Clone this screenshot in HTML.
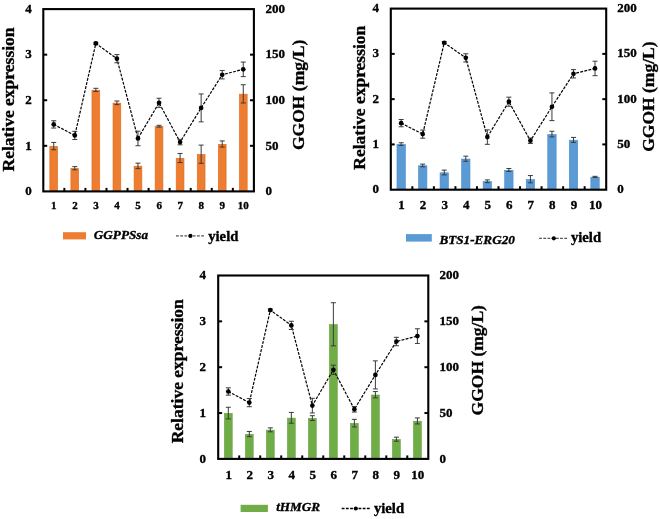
<!DOCTYPE html>
<html><head><meta charset="utf-8"><title>Relative expression and GGOH yield</title>
<style>
html,body{margin:0;padding:0;background:#fff;}
svg{display:block;filter:blur(0.3px);}
text{font-family:"Liberation Serif", serif;font-weight:bold;fill:#000;stroke:#000;stroke-width:0.35px;}
</style></head>
<body>
<svg width="660" height="519" viewBox="0 0 660 519">
<rect width="660" height="519" fill="#fff"/>
<g><rect x="49.83" y="146.4" width="7.8" height="45" fill="#ED7D31" stroke="#E06A1C" stroke-width="0.6"/><rect x="70.89" y="168.5" width="7.8" height="22.9" fill="#ED7D31" stroke="#E06A1C" stroke-width="0.6"/><rect x="91.95" y="90.2" width="7.8" height="101.2" fill="#ED7D31" stroke="#E06A1C" stroke-width="0.6"/><rect x="113.01" y="103.1" width="7.8" height="88.3" fill="#ED7D31" stroke="#E06A1C" stroke-width="0.6"/><rect x="134.07" y="166.18" width="7.8" height="25.22" fill="#ED7D31" stroke="#E06A1C" stroke-width="0.6"/><rect x="155.13" y="126.53" width="7.8" height="64.87" fill="#ED7D31" stroke="#E06A1C" stroke-width="0.6"/><rect x="176.19" y="158.29" width="7.8" height="33.11" fill="#ED7D31" stroke="#E06A1C" stroke-width="0.6"/><rect x="197.25" y="154.51" width="7.8" height="36.89" fill="#ED7D31" stroke="#E06A1C" stroke-width="0.6"/><rect x="218.31" y="144.3" width="7.8" height="47.1" fill="#ED7D31" stroke="#E06A1C" stroke-width="0.6"/><rect x="239.37" y="94.17" width="7.8" height="97.23" fill="#ED7D31" stroke="#E06A1C" stroke-width="0.6"/><path d="M53.73 142.45V149.74M51.23 142.45H56.23M51.23 149.74H56.23" stroke="#3a3a3a" stroke-width="1" fill="none"/><path d="M74.79 166.61V169.8M72.29 166.61H77.29M72.29 169.8H77.29" stroke="#3a3a3a" stroke-width="1" fill="none"/><path d="M95.85 88.31V91.5M93.35 88.31H98.35M93.35 91.5H98.35" stroke="#3a3a3a" stroke-width="1" fill="none"/><path d="M116.91 100.98V104.63M114.41 100.98H119.41M114.41 104.63H119.41" stroke="#3a3a3a" stroke-width="1" fill="none"/><path d="M137.97 163.14V168.61M135.47 163.14H140.47M135.47 168.61H140.47" stroke="#3a3a3a" stroke-width="1" fill="none"/><path d="M159.03 125.32V127.14M156.53 125.32H161.53M156.53 127.14H161.53" stroke="#3a3a3a" stroke-width="1" fill="none"/><path d="M180.09 153.44V162.55M177.59 153.44H182.59M177.59 162.55H182.59" stroke="#3a3a3a" stroke-width="1" fill="none"/><path d="M201.15 145.1V163.33M198.65 145.1H203.65M198.65 163.33H203.65" stroke="#3a3a3a" stroke-width="1" fill="none"/><path d="M222.21 140.95V147.06M219.71 140.95H224.71M219.71 147.06H224.71" stroke="#3a3a3a" stroke-width="1" fill="none"/><path d="M243.27 84.75V102.98M240.77 84.75H245.77M240.77 102.98H245.77" stroke="#3a3a3a" stroke-width="1" fill="none"/><path d="M53.73 124.4 L74.79 135.43 L95.85 43.46 L116.91 58.69 L137.97 138.44 L159.03 102.8 L180.09 142.09 L201.15 107.91 L222.21 74.73 L243.27 69.35" stroke="#000" stroke-width="1.2" fill="none" stroke-dasharray="2.9 1.3"/><path d="M53.73 120.76V128.05M51.23 120.76H56.23M51.23 128.05H56.23" stroke="#3a3a3a" stroke-width="1" fill="none"/><path d="M74.79 131.33V139.54M72.29 131.33H77.29M72.29 139.54H77.29" stroke="#3a3a3a" stroke-width="1" fill="none"/><path d="M95.85 42.37V44.56M93.35 42.37H98.35M93.35 44.56H98.35" stroke="#3a3a3a" stroke-width="1" fill="none"/><path d="M116.91 54.58V62.79M114.41 54.58H119.41M114.41 62.79H119.41" stroke="#3a3a3a" stroke-width="1" fill="none"/><path d="M137.97 131.15V145.73M135.47 131.15H140.47M135.47 145.73H140.47" stroke="#3a3a3a" stroke-width="1" fill="none"/><path d="M159.03 98.24V107.36M156.53 98.24H161.53M156.53 107.36H161.53" stroke="#3a3a3a" stroke-width="1" fill="none"/><path d="M180.09 139.35V144.82M177.59 139.35H182.59M177.59 144.82H182.59" stroke="#3a3a3a" stroke-width="1" fill="none"/><path d="M201.15 93.96V121.85M198.65 93.96H203.65M198.65 121.85H203.65" stroke="#3a3a3a" stroke-width="1" fill="none"/><path d="M222.21 70.54V78.92M219.71 70.54H224.71M219.71 78.92H224.71" stroke="#3a3a3a" stroke-width="1" fill="none"/><path d="M243.27 62.06V76.64M240.77 62.06H245.77M240.77 76.64H245.77" stroke="#3a3a3a" stroke-width="1" fill="none"/><circle cx="53.73" cy="124.4" r="2.35" fill="#000"/><circle cx="74.79" cy="135.43" r="2.35" fill="#000"/><circle cx="95.85" cy="43.46" r="2.35" fill="#000"/><circle cx="116.91" cy="58.69" r="2.35" fill="#000"/><circle cx="137.97" cy="138.44" r="2.35" fill="#000"/><circle cx="159.03" cy="102.8" r="2.35" fill="#000"/><circle cx="180.09" cy="142.09" r="2.35" fill="#000"/><circle cx="201.15" cy="107.91" r="2.35" fill="#000"/><circle cx="222.21" cy="74.73" r="2.35" fill="#000"/><circle cx="243.27" cy="69.35" r="2.35" fill="#000"/><rect x="43.3" y="9.1" width="210.6" height="182.3" fill="none" stroke="#000" stroke-width="2.1"/><line x1="64.36" y1="191.4" x2="64.36" y2="187.9" stroke="#000" stroke-width="2"/><line x1="85.42" y1="191.4" x2="85.42" y2="187.9" stroke="#000" stroke-width="2"/><line x1="106.48" y1="191.4" x2="106.48" y2="187.9" stroke="#000" stroke-width="2"/><line x1="127.54" y1="191.4" x2="127.54" y2="187.9" stroke="#000" stroke-width="2"/><line x1="148.6" y1="191.4" x2="148.6" y2="187.9" stroke="#000" stroke-width="2"/><line x1="169.66" y1="191.4" x2="169.66" y2="187.9" stroke="#000" stroke-width="2"/><line x1="190.72" y1="191.4" x2="190.72" y2="187.9" stroke="#000" stroke-width="2"/><line x1="211.78" y1="191.4" x2="211.78" y2="187.9" stroke="#000" stroke-width="2"/><line x1="232.84" y1="191.4" x2="232.84" y2="187.9" stroke="#000" stroke-width="2"/><line x1="43.3" y1="145.82" x2="47.2" y2="145.82" stroke="#000" stroke-width="2"/><line x1="253.9" y1="145.82" x2="250" y2="145.82" stroke="#000" stroke-width="2"/><line x1="43.3" y1="100.25" x2="47.2" y2="100.25" stroke="#000" stroke-width="2"/><line x1="253.9" y1="100.25" x2="250" y2="100.25" stroke="#000" stroke-width="2"/><line x1="43.3" y1="54.67" x2="47.2" y2="54.67" stroke="#000" stroke-width="2"/><line x1="253.9" y1="54.67" x2="250" y2="54.67" stroke="#000" stroke-width="2"/><text x="31.8" y="195.19" text-anchor="end" font-size="13">0</text><text x="265.5" y="195.19" font-size="13">0</text><text x="31.8" y="149.54" text-anchor="end" font-size="13">1</text><text x="265.5" y="149.54" font-size="13">50</text><text x="31.8" y="103.89" text-anchor="end" font-size="13">2</text><text x="265.5" y="103.89" font-size="13">100</text><text x="31.8" y="58.24" text-anchor="end" font-size="13">3</text><text x="265.5" y="58.24" font-size="13">150</text><text x="31.8" y="12.59" text-anchor="end" font-size="13">4</text><text x="265.5" y="12.59" font-size="13">200</text><text x="53.83" y="208.7" text-anchor="middle" font-size="11">1</text><text x="74.89" y="208.7" text-anchor="middle" font-size="11">2</text><text x="95.95" y="208.7" text-anchor="middle" font-size="11">3</text><text x="117.01" y="208.7" text-anchor="middle" font-size="11">4</text><text x="138.07" y="208.7" text-anchor="middle" font-size="11">5</text><text x="159.13" y="208.7" text-anchor="middle" font-size="11">6</text><text x="180.19" y="208.7" text-anchor="middle" font-size="11">7</text><text x="201.25" y="208.7" text-anchor="middle" font-size="11">8</text><text x="222.31" y="208.7" text-anchor="middle" font-size="11">9</text><text x="243.37" y="208.7" text-anchor="middle" font-size="11">10</text><text transform="translate(14 171.5) rotate(-90)" font-size="17.5">Relative expression</text><text transform="translate(304.2 150) rotate(-90)" font-size="17.5">GGOH (mg/L)</text><rect x="63" y="232.2" width="23" height="7.2" fill="#ED7D31"/><text x="93.8" y="239.4" font-size="13.2" font-style="italic">GGPPSsa</text><line x1="176" y1="235.9" x2="205.2" y2="235.9" stroke="#555" stroke-width="1.3" stroke-dasharray="2.8 1.4"/><circle cx="190.4" cy="235.9" r="2.1" fill="#000"/><text x="208.2" y="240.8" font-size="14.7">yield</text></g>
<g><rect x="396.97" y="144.41" width="8.4" height="45.29" fill="#5B9BD5" stroke="#4A8CCB" stroke-width="0.6"/><rect x="418.51" y="165.78" width="8.4" height="23.92" fill="#5B9BD5" stroke="#4A8CCB" stroke-width="0.6"/><rect x="440.05" y="172.8" width="8.4" height="16.9" fill="#5B9BD5" stroke="#4A8CCB" stroke-width="0.6"/><rect x="461.59" y="159.03" width="8.4" height="30.67" fill="#5B9BD5" stroke="#4A8CCB" stroke-width="0.6"/><rect x="483.13" y="181.58" width="8.4" height="8.12" fill="#5B9BD5" stroke="#4A8CCB" stroke-width="0.6"/><rect x="504.67" y="170.26" width="8.4" height="19.44" fill="#5B9BD5" stroke="#4A8CCB" stroke-width="0.6"/><rect x="526.21" y="179.5" width="8.4" height="10.2" fill="#5B9BD5" stroke="#4A8CCB" stroke-width="0.6"/><rect x="547.75" y="134.4" width="8.4" height="55.3" fill="#5B9BD5" stroke="#4A8CCB" stroke-width="0.6"/><rect x="569.29" y="140.2" width="8.4" height="49.5" fill="#5B9BD5" stroke="#4A8CCB" stroke-width="0.6"/><rect x="590.83" y="177.19" width="8.4" height="12.51" fill="#5B9BD5" stroke="#4A8CCB" stroke-width="0.6"/><path d="M401.17 142.75V145.47M398.67 142.75H403.67M398.67 145.47H403.67" stroke="#3a3a3a" stroke-width="1" fill="none"/><path d="M422.71 164.12V166.84M420.21 164.12H425.21M420.21 166.84H425.21" stroke="#3a3a3a" stroke-width="1" fill="none"/><path d="M444.25 170.1V174.9M441.75 170.1H446.75M441.75 174.9H446.75" stroke="#3a3a3a" stroke-width="1" fill="none"/><path d="M465.79 156.15V161.31M463.29 156.15H468.29M463.29 161.31H468.29" stroke="#3a3a3a" stroke-width="1" fill="none"/><path d="M487.33 179.92V182.64M484.83 179.92H489.83M484.83 182.64H489.83" stroke="#3a3a3a" stroke-width="1" fill="none"/><path d="M508.87 168.47V171.45M506.37 168.47H511.37M506.37 171.45H511.37" stroke="#3a3a3a" stroke-width="1" fill="none"/><path d="M530.41 175.57V182.82M527.91 175.57H532.91M527.91 182.82H532.91" stroke="#3a3a3a" stroke-width="1" fill="none"/><path d="M551.95 131.25V136.95M549.45 131.25H554.45M549.45 136.95H554.45" stroke="#3a3a3a" stroke-width="1" fill="none"/><path d="M573.49 137.41V142.39M570.99 137.41H575.99M570.99 142.39H575.99" stroke="#3a3a3a" stroke-width="1" fill="none"/><path d="M595.03 176.34V177.43M592.53 176.34H597.53M592.53 177.43H597.53" stroke="#3a3a3a" stroke-width="1" fill="none"/><path d="M401.17 123.15 L422.71 134.1 L444.25 42.74 L465.79 57.86 L487.33 137.09 L508.87 101.69 L530.41 140.71 L551.95 106.76 L573.49 73.8 L595.03 68.45" stroke="#000" stroke-width="1.2" fill="none" stroke-dasharray="2.9 1.3"/><path d="M401.17 119.52V126.77M398.67 119.52H403.67M398.67 126.77H403.67" stroke="#3a3a3a" stroke-width="1" fill="none"/><path d="M422.71 130.03V138.18M420.21 130.03H425.21M420.21 138.18H425.21" stroke="#3a3a3a" stroke-width="1" fill="none"/><path d="M444.25 41.65V43.82M441.75 41.65H446.75M441.75 43.82H446.75" stroke="#3a3a3a" stroke-width="1" fill="none"/><path d="M465.79 53.78V61.93M463.29 53.78H468.29M463.29 61.93H468.29" stroke="#3a3a3a" stroke-width="1" fill="none"/><path d="M487.33 129.85V144.33M484.83 129.85H489.83M484.83 144.33H489.83" stroke="#3a3a3a" stroke-width="1" fill="none"/><path d="M508.87 97.16V106.21M506.37 97.16H511.37M506.37 106.21H511.37" stroke="#3a3a3a" stroke-width="1" fill="none"/><path d="M530.41 138V143.43M527.91 138H532.91M527.91 143.43H532.91" stroke="#3a3a3a" stroke-width="1" fill="none"/><path d="M551.95 92.9V120.61M549.45 92.9H554.45M549.45 120.61H554.45" stroke="#3a3a3a" stroke-width="1" fill="none"/><path d="M573.49 69.63V77.96M570.99 69.63H575.99M570.99 77.96H575.99" stroke="#3a3a3a" stroke-width="1" fill="none"/><path d="M595.03 61.21V75.7M592.53 61.21H597.53M592.53 75.7H597.53" stroke="#3a3a3a" stroke-width="1" fill="none"/><circle cx="401.17" cy="123.15" r="2.35" fill="#000"/><circle cx="422.71" cy="134.1" r="2.35" fill="#000"/><circle cx="444.25" cy="42.74" r="2.35" fill="#000"/><circle cx="465.79" cy="57.86" r="2.35" fill="#000"/><circle cx="487.33" cy="137.09" r="2.35" fill="#000"/><circle cx="508.87" cy="101.69" r="2.35" fill="#000"/><circle cx="530.41" cy="140.71" r="2.35" fill="#000"/><circle cx="551.95" cy="106.76" r="2.35" fill="#000"/><circle cx="573.49" cy="73.8" r="2.35" fill="#000"/><circle cx="595.03" cy="68.45" r="2.35" fill="#000"/><rect x="390.8" y="8.6" width="215.4" height="181.1" fill="none" stroke="#000" stroke-width="2.1"/><line x1="412.34" y1="189.7" x2="412.34" y2="186.2" stroke="#000" stroke-width="2"/><line x1="433.88" y1="189.7" x2="433.88" y2="186.2" stroke="#000" stroke-width="2"/><line x1="455.42" y1="189.7" x2="455.42" y2="186.2" stroke="#000" stroke-width="2"/><line x1="476.96" y1="189.7" x2="476.96" y2="186.2" stroke="#000" stroke-width="2"/><line x1="498.5" y1="189.7" x2="498.5" y2="186.2" stroke="#000" stroke-width="2"/><line x1="520.04" y1="189.7" x2="520.04" y2="186.2" stroke="#000" stroke-width="2"/><line x1="541.58" y1="189.7" x2="541.58" y2="186.2" stroke="#000" stroke-width="2"/><line x1="563.12" y1="189.7" x2="563.12" y2="186.2" stroke="#000" stroke-width="2"/><line x1="584.66" y1="189.7" x2="584.66" y2="186.2" stroke="#000" stroke-width="2"/><line x1="390.8" y1="144.42" x2="394.7" y2="144.42" stroke="#000" stroke-width="2"/><line x1="606.2" y1="144.42" x2="602.3" y2="144.42" stroke="#000" stroke-width="2"/><line x1="390.8" y1="99.15" x2="394.7" y2="99.15" stroke="#000" stroke-width="2"/><line x1="606.2" y1="99.15" x2="602.3" y2="99.15" stroke="#000" stroke-width="2"/><line x1="390.8" y1="53.88" x2="394.7" y2="53.88" stroke="#000" stroke-width="2"/><line x1="606.2" y1="53.88" x2="602.3" y2="53.88" stroke="#000" stroke-width="2"/><text x="379" y="193.49" text-anchor="end" font-size="13">0</text><text x="617.2" y="193.49" font-size="13">0</text><text x="379" y="148.14" text-anchor="end" font-size="13">1</text><text x="617.2" y="148.14" font-size="13">50</text><text x="379" y="102.79" text-anchor="end" font-size="13">2</text><text x="617.2" y="102.79" font-size="13">100</text><text x="379" y="57.44" text-anchor="end" font-size="13">3</text><text x="617.2" y="57.44" font-size="13">150</text><text x="379" y="12.09" text-anchor="end" font-size="13">4</text><text x="617.2" y="12.09" font-size="13">200</text><text x="401.57" y="208.8" text-anchor="middle" font-size="13">1</text><text x="423.11" y="208.8" text-anchor="middle" font-size="13">2</text><text x="444.65" y="208.8" text-anchor="middle" font-size="13">3</text><text x="466.19" y="208.8" text-anchor="middle" font-size="13">4</text><text x="487.73" y="208.8" text-anchor="middle" font-size="13">5</text><text x="509.27" y="208.8" text-anchor="middle" font-size="13">6</text><text x="530.81" y="208.8" text-anchor="middle" font-size="13">7</text><text x="552.35" y="208.8" text-anchor="middle" font-size="13">8</text><text x="573.89" y="208.8" text-anchor="middle" font-size="13">9</text><text x="595.43" y="208.8" text-anchor="middle" font-size="13">10</text><text transform="translate(365 169.7) rotate(-90)" font-size="17.5">Relative expression</text><text transform="translate(654.2 151.8) rotate(-90)" font-size="17.5">GGOH (mg/L)</text><rect x="406" y="234.1" width="25.8" height="7.5" fill="#5B9BD5"/><text x="439.4" y="243.9" font-size="13.2" font-style="italic">BTS1-ERG20</text><line x1="539.1" y1="238.3" x2="567.4" y2="238.3" stroke="#555" stroke-width="1.3" stroke-dasharray="2.8 1.4"/><circle cx="553.8" cy="238.3" r="2.1" fill="#000"/><text x="570.9" y="242.3" font-size="14.7">yield</text></g>
<g><rect x="224.41" y="413.4" width="7.8" height="45.5" fill="#70AD47" stroke="#62A03A" stroke-width="0.6"/><rect x="245.41" y="434.35" width="7.8" height="24.55" fill="#70AD47" stroke="#62A03A" stroke-width="0.6"/><rect x="266.43" y="430.13" width="7.8" height="28.77" fill="#70AD47" stroke="#62A03A" stroke-width="0.6"/><rect x="287.44" y="418.12" width="7.8" height="40.78" fill="#70AD47" stroke="#62A03A" stroke-width="0.6"/><rect x="308.45" y="418.39" width="7.8" height="40.51" fill="#70AD47" stroke="#62A03A" stroke-width="0.6"/><rect x="329.46" y="324.58" width="7.8" height="134.32" fill="#70AD47" stroke="#62A03A" stroke-width="0.6"/><rect x="350.47" y="423.44" width="7.8" height="35.46" fill="#70AD47" stroke="#62A03A" stroke-width="0.6"/><rect x="371.48" y="395.01" width="7.8" height="63.89" fill="#70AD47" stroke="#62A03A" stroke-width="0.6"/><rect x="392.49" y="439.48" width="7.8" height="19.42" fill="#70AD47" stroke="#62A03A" stroke-width="0.6"/><rect x="413.5" y="421.24" width="7.8" height="37.66" fill="#70AD47" stroke="#62A03A" stroke-width="0.6"/><path d="M228.3 407.27V418.92M225.8 407.27H230.8M225.8 418.92H230.8" stroke="#3a3a3a" stroke-width="1" fill="none"/><path d="M249.31 431.44V436.66M246.81 431.44H251.81M246.81 436.66H251.81" stroke="#3a3a3a" stroke-width="1" fill="none"/><path d="M270.33 427.86V431.8M267.83 427.86H272.83M267.83 431.8H272.83" stroke="#3a3a3a" stroke-width="1" fill="none"/><path d="M291.34 412.41V423.23M288.84 412.41H293.84M288.84 423.23H293.84" stroke="#3a3a3a" stroke-width="1" fill="none"/><path d="M312.35 415.71V420.48M309.85 415.71H314.85M309.85 420.48H314.85" stroke="#3a3a3a" stroke-width="1" fill="none"/><path d="M333.36 302.73V345.83M330.86 302.73H335.86M330.86 345.83H335.86" stroke="#3a3a3a" stroke-width="1" fill="none"/><path d="M354.37 419.33V426.94M351.87 419.33H356.87M351.87 426.94H356.87" stroke="#3a3a3a" stroke-width="1" fill="none"/><path d="M375.38 391.59V397.83M372.88 391.59H377.88M372.88 397.83H377.88" stroke="#3a3a3a" stroke-width="1" fill="none"/><path d="M396.38 437.17V441.2M393.88 437.17H398.88M393.88 441.2H398.88" stroke="#3a3a3a" stroke-width="1" fill="none"/><path d="M417.4 417.91V423.96M414.9 417.91H419.9M414.9 423.96H419.9" stroke="#3a3a3a" stroke-width="1" fill="none"/><path d="M228.3 391.5 L249.31 402.6 L270.33 310.07 L291.34 325.38 L312.35 405.62 L333.36 369.77 L354.37 409.29 L375.38 374.9 L396.38 341.52 L417.4 336.11" stroke="#000" stroke-width="1.2" fill="none" stroke-dasharray="2.9 1.3"/><path d="M228.3 387.83V395.17M225.8 387.83H230.8M225.8 395.17H230.8" stroke="#3a3a3a" stroke-width="1" fill="none"/><path d="M249.31 398.47V406.72M246.81 398.47H251.81M246.81 406.72H251.81" stroke="#3a3a3a" stroke-width="1" fill="none"/><path d="M270.33 308.97V311.17M267.83 308.97H272.83M267.83 311.17H272.83" stroke="#3a3a3a" stroke-width="1" fill="none"/><path d="M291.34 321.26V329.51M288.84 321.26H293.84M288.84 329.51H293.84" stroke="#3a3a3a" stroke-width="1" fill="none"/><path d="M312.35 398.29V412.96M309.85 398.29H314.85M309.85 412.96H314.85" stroke="#3a3a3a" stroke-width="1" fill="none"/><path d="M333.36 365.18V374.35M330.86 365.18H335.86M330.86 374.35H335.86" stroke="#3a3a3a" stroke-width="1" fill="none"/><path d="M354.37 406.54V412.04M351.87 406.54H356.87M351.87 412.04H356.87" stroke="#3a3a3a" stroke-width="1" fill="none"/><path d="M375.38 360.87V388.93M372.88 360.87H377.88M372.88 388.93H377.88" stroke="#3a3a3a" stroke-width="1" fill="none"/><path d="M396.38 337.31V345.74M393.88 337.31H398.88M393.88 345.74H398.88" stroke="#3a3a3a" stroke-width="1" fill="none"/><path d="M417.4 328.78V343.45M414.9 328.78H419.9M414.9 343.45H419.9" stroke="#3a3a3a" stroke-width="1" fill="none"/><circle cx="228.3" cy="391.5" r="2.35" fill="#000"/><circle cx="249.31" cy="402.6" r="2.35" fill="#000"/><circle cx="270.33" cy="310.07" r="2.35" fill="#000"/><circle cx="291.34" cy="325.38" r="2.35" fill="#000"/><circle cx="312.35" cy="405.62" r="2.35" fill="#000"/><circle cx="333.36" cy="369.77" r="2.35" fill="#000"/><circle cx="354.37" cy="409.29" r="2.35" fill="#000"/><circle cx="375.38" cy="374.9" r="2.35" fill="#000"/><circle cx="396.38" cy="341.52" r="2.35" fill="#000"/><circle cx="417.4" cy="336.11" r="2.35" fill="#000"/><rect x="218.2" y="275.5" width="210.1" height="183.4" fill="none" stroke="#000" stroke-width="2.1"/><line x1="239.21" y1="458.9" x2="239.21" y2="455.4" stroke="#000" stroke-width="2"/><line x1="260.22" y1="458.9" x2="260.22" y2="455.4" stroke="#000" stroke-width="2"/><line x1="281.23" y1="458.9" x2="281.23" y2="455.4" stroke="#000" stroke-width="2"/><line x1="302.24" y1="458.9" x2="302.24" y2="455.4" stroke="#000" stroke-width="2"/><line x1="323.25" y1="458.9" x2="323.25" y2="455.4" stroke="#000" stroke-width="2"/><line x1="344.26" y1="458.9" x2="344.26" y2="455.4" stroke="#000" stroke-width="2"/><line x1="365.27" y1="458.9" x2="365.27" y2="455.4" stroke="#000" stroke-width="2"/><line x1="386.28" y1="458.9" x2="386.28" y2="455.4" stroke="#000" stroke-width="2"/><line x1="407.29" y1="458.9" x2="407.29" y2="455.4" stroke="#000" stroke-width="2"/><line x1="218.2" y1="413.05" x2="222.1" y2="413.05" stroke="#000" stroke-width="2"/><line x1="428.3" y1="413.05" x2="424.4" y2="413.05" stroke="#000" stroke-width="2"/><line x1="218.2" y1="367.2" x2="222.1" y2="367.2" stroke="#000" stroke-width="2"/><line x1="428.3" y1="367.2" x2="424.4" y2="367.2" stroke="#000" stroke-width="2"/><line x1="218.2" y1="321.35" x2="222.1" y2="321.35" stroke="#000" stroke-width="2"/><line x1="428.3" y1="321.35" x2="424.4" y2="321.35" stroke="#000" stroke-width="2"/><text x="206" y="462.69" text-anchor="end" font-size="13">0</text><text x="439.4" y="462.69" font-size="13">0</text><text x="206" y="416.77" text-anchor="end" font-size="13">1</text><text x="439.4" y="416.77" font-size="13">50</text><text x="206" y="370.84" text-anchor="end" font-size="13">2</text><text x="439.4" y="370.84" font-size="13">100</text><text x="206" y="324.92" text-anchor="end" font-size="13">3</text><text x="439.4" y="324.92" font-size="13">150</text><text x="206" y="278.99" text-anchor="end" font-size="13">4</text><text x="439.4" y="278.99" font-size="13">200</text><text x="228.7" y="478.8" text-anchor="middle" font-size="13">1</text><text x="249.71" y="478.8" text-anchor="middle" font-size="13">2</text><text x="270.73" y="478.8" text-anchor="middle" font-size="13">3</text><text x="291.74" y="478.8" text-anchor="middle" font-size="13">4</text><text x="312.75" y="478.8" text-anchor="middle" font-size="13">5</text><text x="333.75" y="478.8" text-anchor="middle" font-size="13">6</text><text x="354.76" y="478.8" text-anchor="middle" font-size="13">7</text><text x="375.77" y="478.8" text-anchor="middle" font-size="13">8</text><text x="396.78" y="478.8" text-anchor="middle" font-size="13">9</text><text x="417.8" y="478.8" text-anchor="middle" font-size="13">10</text><text transform="translate(183 443.3) rotate(-90)" font-size="17.5">Relative expression</text><text transform="translate(483.1 415.4) rotate(-90)" font-size="17.5">GGOH (mg/L)</text><rect x="240.6" y="504.8" width="27.3" height="7.2" fill="#70AD47"/><text x="276.2" y="511.4" font-size="13.2" font-style="italic">tHMGR</text><line x1="341.7" y1="508.5" x2="370.1" y2="508.5" stroke="#000" stroke-width="1.4" stroke-dasharray="2.8 1.4"/><circle cx="355.8" cy="508.5" r="2.1" fill="#000"/><text x="373.9" y="512.7" font-size="14.7">yield</text></g>
</svg>
</body></html>
